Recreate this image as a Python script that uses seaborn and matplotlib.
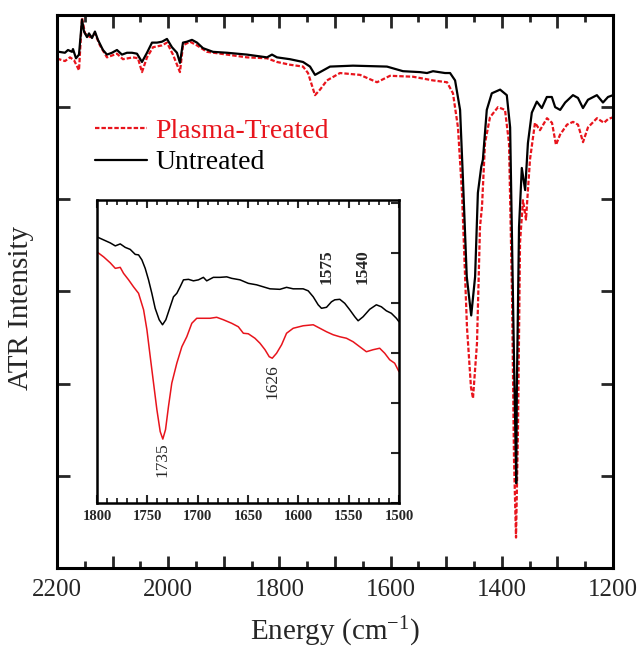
import matplotlib
matplotlib.use("Agg")
import matplotlib.pyplot as plt
import seaborn as sns
import pandas as pd
from matplotlib.ticker import MultipleLocator, FuncFormatter

# ---------------- main spectrum data ----------------
wn_untreated = [2200, 2196.4, 2185.6, 2180.2, 2173.0, 2171.2, 2165.8, 2160.4, 2155.0, 2151.4,
                2146.0, 2142.4, 2137.0, 2131.7, 2126.3, 2117.3, 2110.1, 2101.1, 2092.1, 2083.1,
                2074.1, 2065.1, 2056.1, 2047.1, 2038.1, 2029.1, 2020.1, 2011.1, 2002.2, 1993.2,
                1984.2, 1978.8, 1973.4, 1966.2, 1957.2, 1948.2, 1937.4, 1919.4, 1894.2, 1858.3,
                1822.3, 1813.3, 1804.3, 1780.9, 1757.5, 1744.9, 1735.9, 1726.9, 1708.9, 1667.6,
                1606.5, 1577.7, 1547.1, 1534.5, 1523.7, 1502.1, 1493, 1484, 1475, 1470,
                1463, 1455, 1448, 1443, 1437, 1434, 1427, 1418, 1403, 1391,
                1385, 1382, 1378, 1374, 1373, 1369, 1364, 1358, 1353, 1346,
                1337, 1328, 1319, 1310, 1304, 1295, 1286, 1272, 1263, 1254,
                1245, 1229, 1218, 1209, 1200]
int_untreated = [5.60, 5.60, 5.59, 5.62, 5.60, 5.63, 5.53, 5.57, 5.95, 5.82,
                 5.76, 5.80, 5.75, 5.82, 5.73, 5.62, 5.57, 5.59, 5.62, 5.57,
                 5.59, 5.59, 5.58, 5.49, 5.59, 5.70, 5.70, 5.71, 5.74, 5.65,
                 5.59, 5.48, 5.70, 5.71, 5.73, 5.70, 5.64, 5.60, 5.59, 5.57,
                 5.54, 5.57, 5.54, 5.52, 5.49, 5.44, 5.35, 5.38, 5.44, 5.45,
                 5.44, 5.39, 5.38, 5.37, 5.39, 5.37, 5.37, 5.29, 4.97, 4.24,
                 3.16, 2.74, 3.16, 4.07, 4.35, 4.43, 4.97, 5.15, 5.19, 5.13,
                 4.78, 3.70, 2.26, 0.92, 1.90, 3.70, 4.34, 4.10, 4.61, 4.94,
                 5.06, 4.99, 5.11, 5.11, 5.00, 4.97, 5.05, 5.13, 5.10, 4.99,
                 5.08, 5.13, 5.05, 5.11, 5.13]

wn_plasma = [2200, 2196.4, 2185.6, 2176.6, 2169.4, 2160.4, 2155.0, 2149.6, 2140.6, 2131.7,
             2122.7, 2110.1, 2092.1, 2081.3, 2063.3, 2054.3, 2047.1, 2038.1, 2027.3, 2011.1,
             2002.2, 1991.4, 1978.8, 1973.4, 1960.8, 1948.2, 1930.2, 1894.2, 1858.3, 1822.3,
             1804.3, 1780.9, 1757.5, 1748.5, 1735.9, 1726.9, 1714.4, 1691.0, 1655.0, 1624.4,
             1601.1, 1559.7, 1523.7, 1498.5, 1487.8, 1478.8, 1471.6, 1462.6, 1455.4, 1451.8,
             1444.6, 1439.2, 1435.6, 1430.2, 1421.2, 1406.8, 1394.2, 1387.0, 1381.6, 1378.0,
             1374.4, 1370.8, 1367.2, 1361.9, 1356.5, 1349.3, 1340.3, 1331.3, 1318.7, 1309.7,
             1302.5, 1295.3, 1282.7, 1271.9, 1262.9, 1253.9, 1245.0, 1228.8, 1216.2, 1209.0,
             1200]
int_plasma = [5.52, 5.52, 5.50, 5.54, 5.51, 5.40, 5.97, 5.80, 5.76, 5.80,
              5.67, 5.54, 5.58, 5.52, 5.54, 5.53, 5.38, 5.54, 5.65, 5.67,
              5.70, 5.57, 5.38, 5.67, 5.71, 5.67, 5.60, 5.57, 5.54, 5.53,
              5.49, 5.46, 5.44, 5.37, 5.13, 5.19, 5.29, 5.37, 5.35, 5.27,
              5.34, 5.33, 5.29, 5.27, 5.15, 4.78, 4.07, 2.61, 1.96, 1.84,
              2.44, 3.70, 3.92, 4.61, 4.89, 5.00, 4.97, 4.61, 2.98, 1.17,
              0.33, 1.53, 3.53, 3.99, 3.78, 4.43, 4.83, 4.75, 4.88, 4.83,
              4.59, 4.70, 4.81, 4.84, 4.81, 4.62, 4.78, 4.88, 4.83, 4.87,
              4.89]

# ---------------- inset data (1800-1500 cm-1) ----------------
ins_wn_untreated = [1800, 1793.4, 1786.8, 1781.8, 1776.9, 1771.9, 1767.0, 1762.0, 1758.7, 1755.4,
                    1752.1, 1748.8, 1745.5, 1742.2, 1738.2, 1734.9, 1731.6, 1727.3, 1724.0, 1720.7,
                    1717.4, 1714.1, 1709.1, 1704.2, 1699.2, 1694.3, 1691.0, 1684.4, 1677.8, 1671.1,
                    1666.2, 1657.9, 1649.7, 1641.4, 1634.8, 1628.2, 1618.3, 1611.7, 1605.1, 1595.2,
                    1590.2, 1585.2, 1580.3, 1577.0, 1572.0, 1567.1, 1563.8, 1558.8, 1553.9, 1548.9,
                    1543.9, 1540.6, 1535.7, 1529.1, 1522.5, 1517.5, 1512.6, 1507.6, 1502.6, 1500]
ins_int_untreated = [5.33, 5.27, 5.21, 5.15, 5.19, 5.12, 5.08, 4.98, 4.97, 4.87,
                     4.70, 4.47, 4.20, 3.90, 3.67, 3.57, 3.67, 3.93, 4.13, 4.20,
                     4.33, 4.47, 4.48, 4.45, 4.47, 4.52, 4.45, 4.52, 4.52, 4.53,
                     4.50, 4.47, 4.40, 4.37, 4.33, 4.29, 4.28, 4.32, 4.29, 4.29,
                     4.25, 4.13, 3.97, 3.90, 3.92, 4.03, 4.07, 4.08, 4.00, 3.87,
                     3.73, 3.65, 3.73, 3.88, 3.97, 3.93, 3.85, 3.80, 3.70, 3.63]

ins_wn_plasma = [1800, 1793.4, 1786.8, 1781.8, 1776.9, 1773.6, 1768.6, 1763.7, 1758.7, 1753.7,
                 1750.4, 1747.1, 1743.8, 1740.5, 1737.2, 1734.6, 1731.9, 1729.0, 1725.7, 1720.7,
                 1715.7, 1710.8, 1705.8, 1700.9, 1694.3, 1687.7, 1681.1, 1674.4, 1666.2, 1659.6,
                 1654.6, 1649.7, 1643.1, 1638.1, 1633.1, 1628.9, 1625.9, 1621.6, 1616.6, 1611.7,
                 1605.1, 1595.2, 1585.2, 1578.6, 1572.0, 1565.4, 1558.8, 1552.2, 1545.6, 1539.0,
                 1532.4, 1525.8, 1519.2, 1514.2, 1509.3, 1504.3, 1500]
ins_int_plasma = [5.03, 4.93, 4.81, 4.70, 4.72, 4.60, 4.47, 4.33, 4.20, 3.87,
                  3.47, 2.93, 2.40, 1.87, 1.43, 1.28, 1.47, 1.93, 2.40, 2.80,
                  3.13, 3.33, 3.60, 3.70, 3.70, 3.70, 3.72, 3.67, 3.60, 3.53,
                  3.40, 3.39, 3.30, 3.20, 3.07, 2.93, 2.90, 3.00, 3.17, 3.40,
                  3.50, 3.55, 3.57, 3.50, 3.43, 3.37, 3.33, 3.30, 3.23, 3.13,
                  3.03, 3.07, 3.10, 3.00, 2.87, 2.80, 2.63]

peak_labels = ["1735", "1626", "1575", "1540"]
peak_wn = [1735, 1626, 1572, 1536]
peak_y = [0.87, 2.43, 4.73, 4.73]
peak_bold = [False, False, True, True]

legend_labels = ["Plasma-Treated", "Untreated"]
main_xticklabels = ["2200", "2000", "1800", "1600", "1400", "1200"]

# ---------------- styling ----------------
sns.set_theme(style="ticks")
plt.rcParams['font.family'] = ['Liberation Serif', 'DejaVu Serif']
plt.rcParams['mathtext.fontset'] = 'custom'
plt.rcParams['mathtext.rm'] = 'Liberation Serif'
plt.rcParams['mathtext.it'] = 'Liberation Serif:italic'
plt.rcParams['mathtext.bf'] = 'Liberation Serif:bold'
plt.rcParams['axes.unicode_minus'] = False

RED = '#e8141c'
BLACK = '#000000'

fig = plt.figure(figsize=(6.38, 6.48), dpi=100)
ax = fig.add_axes([0.0893, 0.1235, 0.8715, 0.8534])

df_u = pd.DataFrame({"wn": wn_untreated, "I": int_untreated})
df_p = pd.DataFrame({"wn": wn_plasma, "I": int_plasma})

sns.lineplot(data=df_p, x="wn", y="I", ax=ax, color=RED, estimator=None, sort=False,
             linewidth=1.6, linestyle=(0, (2.0, 0.9)))
sns.lineplot(data=df_u, x="wn", y="I", ax=ax, color=BLACK, estimator=None, sort=False,
             linewidth=1.6)

ax.set_xlim(2200, 1200)
ax.set_ylim(0, 6.0)
ax.xaxis.set_major_locator(MultipleLocator(100))
ax.xaxis.set_minor_locator(MultipleLocator(50))
ax.xaxis.set_major_formatter(FuncFormatter(
    lambda v, p: main_xticklabels[int(round((2200 - v) / 200))] if abs((v - 2200) % 200) < 1e-6 and 1200 <= v <= 2200 else ""))
ax.yaxis.set_major_locator(MultipleLocator(1))
ax.set_yticklabels([])
ax.tick_params(axis='both', which='major', direction='in', length=9, width=2,
               top=True, right=True, labelsize=18, pad=8)
ax.tick_params(axis='both', which='minor', direction='in', length=5, width=2,
               top=True, right=True)
ax.tick_params(axis='y', which='both', labelleft=False)
for s in ax.spines.values():
    s.set_linewidth(2.2)
    s.set_color('black')
ax.set_xlabel("Energy (cm$^{\\mathregular{-1}}$)", fontsize=21, labelpad=10)
ax.set_ylabel("ATR Intensity", fontsize=21)
ax.yaxis.set_label_coords(-0.042, 0.47)

lines = ax.get_lines()
leg = ax.legend([lines[0], lines[1]], legend_labels, loc='upper left',
                bbox_to_anchor=(0.068, 0.813), frameon=False, fontsize=20,
                handlelength=1.87, handletextpad=0.3, labelspacing=0.22,
                borderaxespad=0, borderpad=0)
for t, c in zip(leg.get_texts(), [RED, BLACK]):
    t.set_color(c)

# ---------------- inset ----------------
ins = fig.add_axes([0.152, 0.2238, 0.4734, 0.4676])
df_iu = pd.DataFrame({"wn": ins_wn_untreated, "I": ins_int_untreated})
df_ip = pd.DataFrame({"wn": ins_wn_plasma, "I": ins_int_plasma})
sns.lineplot(data=df_iu, x="wn", y="I", ax=ins, color=BLACK, estimator=None, sort=False,
             linewidth=1.1)
sns.lineplot(data=df_ip, x="wn", y="I", ax=ins, color=RED, estimator=None, sort=False,
             linewidth=1.1)
ins.set_xlim(1800, 1500)
ins.set_ylim(0, 6.07)
ins.xaxis.set_major_locator(MultipleLocator(50))
ins.xaxis.set_minor_locator(MultipleLocator(10))
ins.yaxis.set_major_locator(MultipleLocator(1))
ins.yaxis.tick_right()
ins.tick_params(axis='x', which='major', direction='in', length=6, width=1.5,
                top=True, bottom=True, labelsize=10.5, pad=5)
ins.tick_params(axis='x', which='minor', direction='in', length=3.5, width=1.3,
                top=True, bottom=True)
ins.tick_params(axis='y', which='major', direction='in', length=6, width=1.5,
                left=False, right=True, labelright=False, labelleft=False)
for lab in ins.get_xticklabels():
    lab.set_fontweight('bold')
ins.set_xlabel("")
ins.set_ylabel("")
for s in ins.spines.values():
    s.set_linewidth(1.8)
    s.set_color('black')

for txt, xw, yv, b in zip(peak_labels, peak_wn, peak_y, peak_bold):
    ins.text(xw, yv, txt, rotation=90, ha='center', va='center', fontsize=12.5,
             fontweight='bold' if b else 'normal')

fig.savefig("out.png", dpi=100)
